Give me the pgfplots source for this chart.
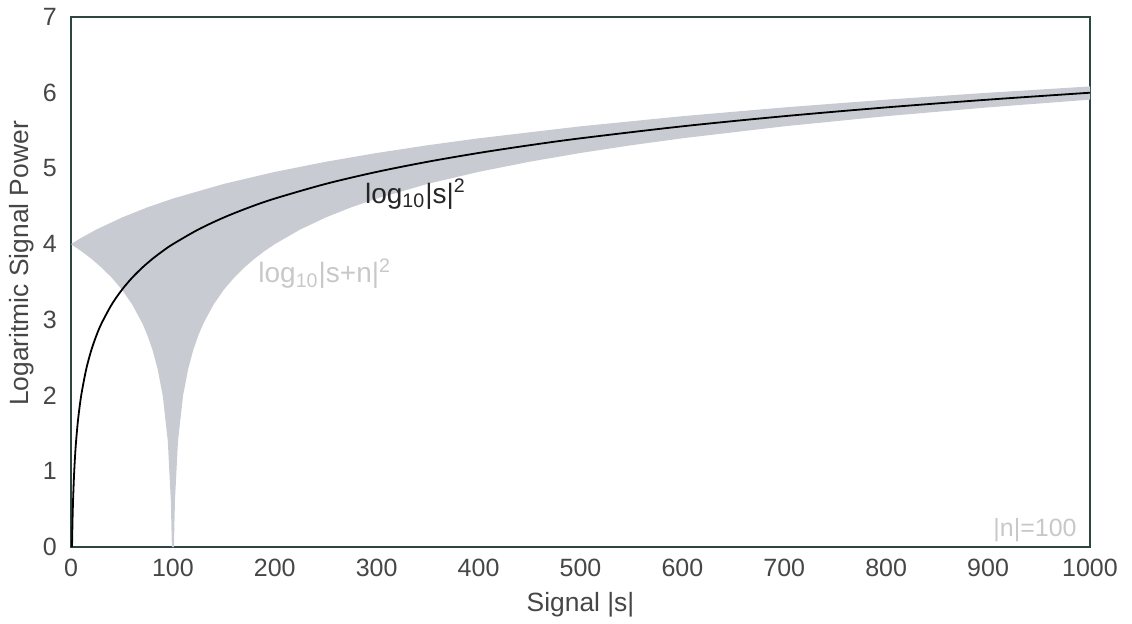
\documentclass[border=0pt]{standalone}
\usepackage{fontspec}
\setmainfont{Liberation Sans}
\usepackage{pgfplots}
\pgfplotsset{compat=1.18}
\definecolor{axcol}{RGB}{45,70,66}
\definecolor{band}{RGB}{200,204,210}
\definecolor{txt}{RGB}{70,70,70}
\definecolor{lightt}{RGB}{200,200,200}
\begin{document}
\begin{tikzpicture}
\begin{axis}[
  scale only axis,
  width=509.5pt, height=265pt,
  xmin=0, xmax=1000, ymin=0, ymax=7,
  xtick={0,100,...,1000}, ytick={0,1,...,7},
  major tick length=0pt,
  axis line style={axcol, line width=1pt},
  tick label style={font=\fontsize{12.5}{14}\selectfont, text=txt},
  /pgf/number format/assume math mode=true,
  /pgf/number format/1000 sep={},
  xticklabel style={yshift=-2.5pt},
  yticklabel style={xshift=-3.6pt},
  xlabel={Signal |s|}, ylabel={Logaritmic Signal Power},
  label style={font=\fontsize{13.2}{15}\selectfont, text=txt},
  xlabel style={at={(axis description cs:0.5,0)}, anchor=center, yshift=-29pt},
  ylabel style={at={(axis description cs:0,0.535)}, anchor=center, yshift=24.5pt},
  clip=true,
]
% band: upper 2log10(s+100) forward, lower 2log10(|s-100|) backward
\addplot[fill=band, draw=none] coordinates {
(0,4) (10,4.0828) (25,4.1938) (50,4.3522) (75,4.4861) (100,4.6021) (150,4.7959)
(200,4.9542) (250,5.0881) (300,5.2041) (350,5.3064) (400,5.3979) (500,5.5563)
(600,5.6902) (700,5.8062) (800,5.9085) (900,6.0) (1000,6.0828)
(1000,5.9085) (900,5.8062) (800,5.6902) (700,5.5563) (600,5.3979) (550,5.3064)
(500,5.2041) (450,5.0881) (400,4.9542) (350,4.7959) (300,4.6021) (275,4.4861)
(250,4.3522) (225,4.1938) (200,4.0) (190,3.9085) (180,3.8062) (170,3.6902)
(160,3.5563) (150,3.3979) (140,3.2041) (130,2.9542) (125,2.7959) (120,2.6021)
(115,2.3522) (110,2.0) (105,1.3979) (102,0.6021) (101,0) (99,0) (98,0.6021)
(95,1.3979) (90,2.0) (85,2.3522) (80,2.6021) (75,2.7959) (70,2.9542)
(60,3.2041) (50,3.3979) (40,3.5563) (30,3.6902) (20,3.8062) (10,3.9085) (0,4)
} -- cycle;
% signal curve 2log10(s)
\addplot[black, line width=0.9pt, smooth] coordinates {
(1,0) (1.5,0.3522) (2,0.6021) (3,0.9542) (4,1.2041) (5,1.3979) (7,1.6902)
(10,2.0) (15,2.3522) (20,2.6021) (25,2.7959) (30,2.9542) (40,3.2041)
(50,3.3979) (60,3.5563) (70,3.6902) (80,3.8062) (90,3.9085) (100,4.0)
(125,4.1938) (150,4.3522) (175,4.4861) (200,4.6021) (250,4.7959)
(300,4.9542) (350,5.0881) (400,5.2041) (450,5.3064) (500,5.3979)
(600,5.5563) (700,5.6902) (800,5.8062) (900,5.9085) (1000,6.0)
};
\node[font=\fontsize{14}{16}\selectfont, text=black!85] at (axis cs:338,4.66) {log\textsubscript{10}|s|\textsuperscript{2}};
\node[font=\fontsize{14}{16}\selectfont, text=lightt] at (axis cs:249,3.61) {log\textsubscript{10}|s+n|\textsuperscript{2}};
\node[font=\fontsize{12.5}{14}\selectfont, text=lightt] at (axis cs:946,0.22) {|n|=100};
\end{axis}
\pgfresetboundingbox
\path[use as bounding box] (-35.5pt,-38pt) rectangle (530.5pt,273.5pt);
\end{tikzpicture}
\end{document}
